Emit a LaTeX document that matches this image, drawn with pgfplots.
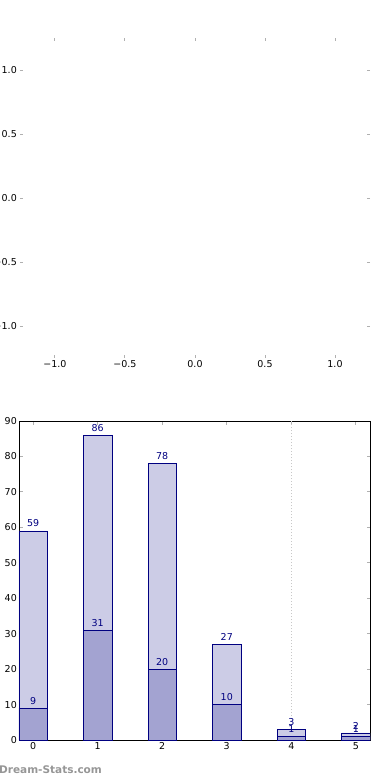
\documentclass[border=0pt]{standalone}
\usepackage{fontspec}
\setmainfont{DejaVu Sans}
\usepackage{pgfplots}
\pgfplotsset{compat=1.18}
\definecolor{navyc}{RGB}{0,0,128}
\definecolor{lightbar}{RGB}{204,204,230}
\definecolor{darkbar}{RGB}{163,163,209}
\definecolor{tickgray}{RGB}{176,176,176}
\definecolor{dotgray}{RGB}{200,200,200}
\definecolor{wm}{RGB}{150,150,150}
\begin{document}
\begin{tikzpicture}[x=1pt,y=1pt]
\path[use as bounding box, clip] (0,-780) rectangle (390,0);
% top empty axes
\begin{axis}[at={(20pt,-358pt)}, anchor=south west, scale only axis,
  width=350pt, height=320pt,
  xmin=-1.25, xmax=1.25, ymin=-1.25, ymax=1.25,
  axis line style={draw=none},
  xtick={-1,-0.5,0,0.5,1}, xticklabels={−1.0,−0.5,0.0,0.5,1.0},
  ytick={-1,-0.5,0,0.5,1}, yticklabels={−1.0,−0.5,0.0,0.5,1.0},
  tick align=inside, xtick pos=both, ytick pos=both,
  major tick length=3pt,
  tick style={tickgray, line width=1pt},
  ticklabel style={font=\fontsize{9.5}{11}\selectfont, inner sep=1pt},
  xticklabel style={yshift=-1pt},
  yticklabel style={xshift=-2pt},
]
\end{axis}
% bottom bar chart
\begin{axis}[at={(19pt,-740pt)}, anchor=south west, scale only axis,
  width=351pt, height=319pt,
  /pgf/number format/assume math mode=true,
  xmin=-0.22, xmax=5.22, ymin=0, ymax=90,
  ybar, bar shift=0pt, bar width=0.44,
  axis line style={black, line width=0.8pt},
  xtick={0,1,2,3,4,5}, ytick={0,10,...,90},
  tick align=inside, xtick pos=both, ytick pos=both,
  major tick length=3.5pt,
  tick style={tickgray, line width=1pt},
  ticklabel style={font=\fontsize{9.5}{11}\selectfont, inner sep=1pt},
  xticklabel style={yshift=-1pt},
  yticklabel style={xshift=-1pt},
  nodes near coords,
  nodes near coords style={font=\fontsize{9.5}{10}\selectfont, text=navyc, inner sep=1pt, yshift=2.5pt},
]
\draw[dotgray, dotted, line width=1pt] (axis cs:4,0) -- (axis cs:4,90);
\addplot[fill=lightbar, draw=navyc, line width=0.6pt] coordinates {(0,59) (1,86) (2,78) (3,27) (4,3) (5,2)};
\addplot[fill=darkbar, draw=navyc, line width=0.6pt] coordinates {(0,9) (1,31) (2,20) (3,10) (4,1) (5,1)};
\end{axis}
\node[anchor=west, inner sep=0pt, text=wm, font=\bfseries\fontsize{10.5}{12}\selectfont] at (-1,-770) {Dream-Stats.com};
\end{tikzpicture}
\end{document}
